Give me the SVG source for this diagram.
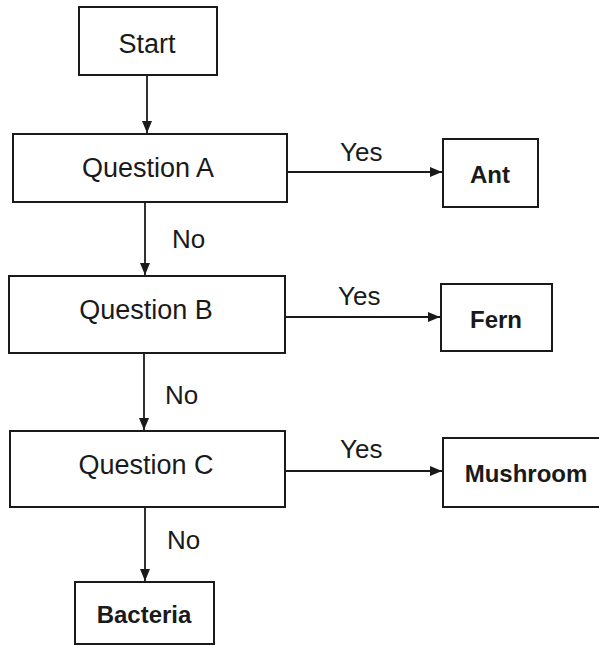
<svg xmlns="http://www.w3.org/2000/svg" width="599" height="646" viewBox="0 0 599 646">
<style>
.box{fill:#fff;stroke:#1a1a1a;stroke-width:2}
.t{font-family:"Liberation Sans",Arial,sans-serif;font-size:27px;fill:#1a1a1a;text-anchor:middle}
.b{font-weight:bold;font-size:24px}
.lbl{font-family:"Liberation Sans",Arial,sans-serif;font-size:26px;fill:#1a1a1a}
.c{stroke:#1a1a1a;stroke-width:1.8;fill:none}
</style>
<defs>
<marker id="ah" viewBox="0 0 12 10" refX="12" refY="5" markerWidth="12" markerHeight="10" markerUnits="userSpaceOnUse" orient="auto">
<path d="M0,0 L12,5 L0,10 Z" fill="#1a1a1a"/>
</marker>
</defs>
<rect width="599" height="646" fill="#fff"/>
<g id="connectors">
<line class="c" x1="147" y1="75" x2="147" y2="133" marker-end="url(#ah)"/>
<line class="c" x1="145" y1="202" x2="145" y2="275" marker-end="url(#ah)"/>
<line class="c" x1="144" y1="353" x2="144" y2="430" marker-end="url(#ah)"/>
<line class="c" x1="145" y1="507" x2="145" y2="581" marker-end="url(#ah)"/>
<line class="c" x1="287" y1="172" x2="442" y2="172" marker-end="url(#ah)"/>
<line class="c" x1="285" y1="317" x2="440" y2="317" marker-end="url(#ah)"/>
<line class="c" x1="285" y1="471" x2="442" y2="471" marker-end="url(#ah)"/>
<text class="lbl" x="172" y="248">No</text>
<text class="lbl" x="165" y="404">No</text>
<text class="lbl" x="167" y="549">No</text>
<text class="lbl" x="340" y="161">Yes</text>
<text class="lbl" x="338" y="305">Yes</text>
<text class="lbl" x="340" y="458">Yes</text>
</g>
<g id="start"><rect class="box" x="79" y="7" width="138" height="68"/><text class="t" x="147" y="53">Start</text></g>
<g id="questionA"><rect class="box" x="13" y="134" width="274" height="68"/><text class="t" x="148" y="177">Question A</text></g>
<g id="ant"><rect class="box" x="443" y="139" width="95" height="68"/><text class="t b" x="490" y="183">Ant</text></g>
<g id="questionB"><rect class="box" x="9" y="276" width="276" height="77"/><text class="t" x="146" y="319">Question B</text></g>
<g id="fern"><rect class="box" x="441" y="284" width="111" height="67"/><text class="t b" x="496" y="328">Fern</text></g>
<g id="questionC"><rect class="box" x="10" y="431" width="275" height="76"/><text class="t" x="146" y="474">Question C</text></g>
<g id="mushroom"><rect class="box" x="443" y="438" width="170" height="69"/><text class="t b" x="526" y="482">Mushroom</text></g>
<g id="bacteria"><rect class="box" x="75" y="582" width="139" height="62"/><text class="t b" x="144" y="623">Bacteria</text></g>
</svg>
